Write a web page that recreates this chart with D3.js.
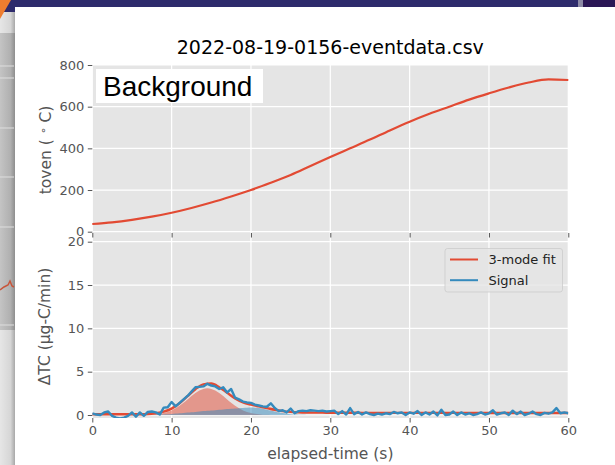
<!DOCTYPE html>
<html>
<head>
<meta charset="utf-8">
<script src="https://cdn.jsdelivr.net/npm/d3@7"></script>
<style>
  body { margin: 0; background: #fff; }
  svg { display: block; }
</style>
</head>
<body>
<div class="container"></div>
<script>
const w = 615;
const h = 465;

// top panel: oven temperature
const tovenTime = [0, 2.5, 5, 7.5, 10, 12.5, 15, 17.5, 20, 22.5, 25, 27.5, 30, 32.5, 35, 37.5, 40, 42.5, 45, 47.5, 50, 52.5, 55, 57.5, 60];
const tovenValues = [37, 45, 57, 72, 91, 114, 140, 169, 200, 235, 272, 315, 358, 400, 442, 486, 528, 566, 600, 634, 664, 692, 716, 731, 728];

// bottom panel: measured signal, 0.5 s steps
const signalTime = d3.range(0, 60.01, 0.5);
const signalValues = [
    0.2, 0.05, 0.0, 0.3, 0.4, -0.1, -0.3, -0.4, -0.3, -0.1,
    0.3, -0.2, 0.3, -0.1, 0.35, 0.4, 0.3, 0.05, 0.85, 0.9,
    1.5, 1.0, 1.4, 1.8, 2.2, 2.7, 3.2, 3.25, 3.3, 3.6,
    3.4, 3.3, 3.0, 3.2, 2.6, 3.0, 2.0, 1.8, 1.55, 1.45,
    1.4, 1.2, 1.1, 1.0, 0.95, 1.35, 0.8, 0.45, 0.55, 0.3,
    0.75, 0.2, 0.45, 0.5, 0.45, 0.55, 0.5, 0.45, 0.5, 0.4,
    0.45, 0.5, 0.1, 0.45, 0.05, 0.8, 0.1, 0.35, 0.05, 0.3,
    0.1, 0.0, 0.15, 0.05, 0.2, 0.1, 0.35, 0.2, 0.3, 0.0,
    0.3, 0.15, 0.45, 0.0, 0.3, 0.05, 0.4, -0.05, 0.6, 0.0,
    0.05, 0.4, 0.0, 0.3, 0.05, 0.2, 0.0, 0.1, 0.3, 0.05,
    0.2, 0.55, 0.05, 0.2, 0.3, 0.0, 0.5, 0.1, 0.4, 0.0,
    0.15, 0.4, 0.1, 0.0, 0.25, 0.15, 0.3, 0.8, 0.2, 0.3,
    0.2
];

// 3-mode fit (sum), 1 s steps
const fitTime = d3.range(0, 60.01, 1);
const fitValues = [
    0.08, 0.08, 0.08, 0.08, 0.08, 0.08, 0.08, 0.1, 0.2, 0.38,
    0.74, 1.36, 2.17, 2.98, 3.54, 3.63, 3.21, 2.56, 1.91, 1.45,
    1.19, 0.99, 0.8, 0.6, 0.45, 0.36, 0.31, 0.28, 0.27, 0.27,
    0.26, 0.26, 0.26, 0.26, 0.25, 0.25, 0.25, 0.25, 0.25, 0.25,
    0.25, 0.24, 0.24, 0.24, 0.24, 0.24, 0.24, 0.24, 0.24, 0.24,
    0.23, 0.23, 0.23, 0.23, 0.23, 0.23, 0.23, 0.23, 0.23, 0.23,
    0.23
];

// individual modes, 0.5 s steps over the first 30 s
const modeTime = d3.range(0, 30.01, 0.5);
const mode1Values = [
    0, 0, 0, 0, 0, 0, 0, 0, 0, 0, 0, 0, 0,
    0.01, 0.02, 0.04, 0.08, 0.14, 0.22, 0.35, 0.53, 0.77, 1.06,
    1.41, 1.79, 2.18, 2.53, 2.82, 3.01, 3.08, 3.01, 2.82, 2.53,
    2.18, 1.79, 1.41, 1.06, 0.77, 0.53, 0.35, 0.22, 0.14, 0.08,
    0.04, 0.02, 0.01,
    0, 0, 0, 0, 0, 0, 0, 0, 0, 0, 0, 0, 0, 0, 0
];
const mode2Values = [
    0, 0, 0, 0, 0, 0, 0, 0, 0, 0, 0, 0, 0, 0, 0,
    0.01, 0.03, 0.05, 0.07, 0.09, 0.12, 0.16, 0.2, 0.24, 0.28,
    0.32, 0.36, 0.4, 0.45, 0.49, 0.53, 0.56, 0.6, 0.64, 0.68,
    0.72, 0.75, 0.79, 0.82, 0.85, 0.87, 0.85, 0.8, 0.72, 0.62,
    0.51, 0.4, 0.3, 0.22, 0.15, 0.1, 0.06, 0.04, 0.02, 0.01,
    0, 0, 0, 0, 0, 0
];

const xTicks = [0, 10, 20, 30, 40, 50, 60];
const tovenTicks = [0, 200, 400, 600, 800];
const tcTicks = [0, 5, 10, 15, 20];
const legendLabels = ['3-mode fit', 'Signal'];

const red = '#E24A33';
const blue = '#348ABD';
const panelBg = '#E5E5E5';
const tickGray = '#555555';
const mplFont = '"DejaVu Sans", sans-serif';

const upper = { y0: 65, y1: 235 };
const lower = { y0: 235, y1: 418 };

const svg = d3.select('.container')
    .append('svg')
    .attr('width', w)
    .attr('height', h)
    .attr('viewBox', [0, 0, w, h]);

// ---- screenshot surroundings ----
const defs = svg.append('defs');
const stripGrad = defs.append('linearGradient').attr('id', 'strip');
stripGrad.append('stop').attr('offset', '0%').attr('stop-color', '#c4c4c4');
stripGrad.append('stop').attr('offset', '70%').attr('stop-color', '#b0b0b0');
stripGrad.append('stop').attr('offset', '100%').attr('stop-color', '#8e8e8e');
const stripGradLow = defs.append('linearGradient').attr('id', 'stripLow');
stripGradLow.append('stop').attr('offset', '0%').attr('stop-color', '#e6e6e6');
stripGradLow.append('stop').attr('offset', '70%').attr('stop-color', '#d6d6d6');
stripGradLow.append('stop').attr('offset', '100%').attr('stop-color', '#a8a8a8');

svg.append('rect').attr('width', w).attr('height', h).attr('fill', '#fff');
svg.append('rect').attr('x', 0).attr('y', 0).attr('width', w).attr('height', 7).attr('fill', '#2e2b6c');
svg.append('rect').attr('x', 578).attr('y', 0).attr('width', 5).attr('height', 7).attr('fill', '#8d8aa6');
svg.append('rect').attr('x', 583).attr('y', 0).attr('width', 32).attr('height', 7).attr('fill', '#2b1755');
svg.append('rect').attr('x', 0).attr('y', 0).attr('width', 15).attr('height', 33).attr('fill', '#2e2b6c');
svg.append('rect').attr('x', 0).attr('y', 12).attr('width', 15).attr('height', 21).attr('fill', 'url(#stripLow)');
svg.append('path').attr('d', 'M0,0 L11,0 L0,19 Z').attr('fill', '#ee7d2f');
svg.append('rect').attr('x', 0).attr('y', 33).attr('width', 15).attr('height', 297).attr('fill', 'url(#strip)');
svg.append('rect').attr('x', 0).attr('y', 330).attr('width', 15).attr('height', 135).attr('fill', 'url(#stripLow)');
[66, 78, 128, 177, 227, 325].forEach(yy => {
    svg.append('line').attr('x1', 0).attr('x2', 14).attr('y1', yy).attr('y2', yy)
        .attr('stroke', '#dedede').attr('stroke-width', 1);
});
svg.append('path').attr('d', 'M0,290 L4,287 L8,285 L10,281 L12,286 L14,287')
    .attr('fill', 'none').attr('stroke', '#c8553a').attr('stroke-width', 1.5);

// ---- scales ----
const x = d3.scaleLinear([0, 60], [92.3, 568.3]);
const yToven = d3.scaleLinear([0, 800], [231.7, 65]);
const yTC = d3.scaleLinear([0, 20], [415, 241.7]);

// ---- panel backgrounds and grids ----
function panel(band, yScale, yTickValues) {
    const g = svg.append('g');
    g.append('rect')
        .attr('x', x(0))
        .attr('y', band.y0)
        .attr('width', x(60) - x(0))
        .attr('height', band.y1 - band.y0)
        .attr('fill', panelBg);
    g.selectAll('.vgrid')
        .data(xTicks)
        .join('line')
        .attr('x1', d => x(d)).attr('x2', d => x(d))
        .attr('y1', band.y0).attr('y2', band.y1)
        .attr('stroke', '#fff').attr('stroke-width', 1.2);
    g.selectAll('.hgrid')
        .data(yTickValues)
        .join('line')
        .attr('x1', x(0)).attr('x2', x(60))
        .attr('y1', d => yScale(d)).attr('y2', d => yScale(d))
        .attr('stroke', '#fff').attr('stroke-width', 1.2);
    return g;
}
panel(upper, yToven, tovenTicks);
panel(lower, yTC, tcTicks);

defs.append('clipPath').attr('id', 'clipLow')
    .append('rect')
    .attr('x', x(0)).attr('y', lower.y0)
    .attr('width', x(60) - x(0)).attr('height', lower.y1 - lower.y0);

// ---- top: oven temperature ----
svg.append('path')
    .datum(tovenTime.map((t, i) => [t, tovenValues[i]]))
    .attr('fill', 'none')
    .attr('stroke', red)
    .attr('stroke-width', 2.2)
    .attr('d', d3.line().x(d => x(d[0])).y(d => yToven(d[1])).curve(d3.curveMonotoneX));

// "Background" annotation box
svg.append('rect')
    .attr('x', 96).attr('y', 69)
    .attr('width', 167).attr('height', 34)
    .attr('fill', '#fff');
svg.append('text')
    .attr('x', 103).attr('y', 95.5)
    .style('font-family', '"Liberation Sans", Arial, sans-serif')
    .style('font-size', '28px')
    .attr('fill', '#000')
    .text('Background');

// ---- bottom: modes, fit and signal ----
const low = svg.append('g').attr('clip-path', 'url(#clipLow)');

const area = d3.area()
    .x(d => x(d[0]))
    .y0(yTC(0))
    .y1(d => yTC(d[1]))
    .curve(d3.curveMonotoneX);

low.append('path')
    .datum(modeTime.map((t, i) => [t, mode1Values[i]]))
    .attr('fill', red).attr('fill-opacity', 0.5)
    .attr('d', area);

low.append('path')
    .datum(modeTime.map((t, i) => [t, mode2Values[i]]))
    .attr('fill', blue).attr('fill-opacity', 0.5)
    .attr('d', area);

low.append('path')
    .datum(fitTime.map((t, i) => [t, fitValues[i]]))
    .attr('fill', 'none')
    .attr('stroke', red)
    .attr('stroke-width', 2.4)
    .attr('d', d3.line().x(d => x(d[0])).y(d => yTC(d[1])).curve(d3.curveMonotoneX));

low.append('path')
    .datum(signalTime.map((t, i) => [t, signalValues[i]]))
    .attr('fill', 'none')
    .attr('stroke', blue)
    .attr('stroke-width', 2.4)
    .attr('stroke-linejoin', 'round')
    .attr('d', d3.line().x(d => x(d[0])).y(d => yTC(d[1])));

// ---- axes ----
function styleAxis(g) {
    g.select('.domain').remove();
    g.selectAll('.tick line').attr('stroke', tickGray).attr('stroke-width', 1);
    g.selectAll('.tick text')
        .attr('fill', tickGray)
        .style('font-family', mplFont)
        .style('font-size', '13px');
}

svg.append('g')
    .attr('transform', `translate(${x(0)},0)`)
    .call(d3.axisLeft(yToven).tickValues(tovenTicks).tickSize(4.5).tickPadding(3.5))
    .call(styleAxis);

svg.append('g')
    .attr('transform', `translate(${x(0)},0)`)
    .call(d3.axisLeft(yTC).tickValues(tcTicks).tickSize(4.5).tickPadding(3.5))
    .call(styleAxis);

// top panel x ticks without labels
svg.append('g')
    .attr('transform', `translate(0,${upper.y1 - 2})`)
    .call(d3.axisBottom(x).tickValues(xTicks).tickSize(4.5).tickFormat(''))
    .call(styleAxis);

svg.append('g')
    .attr('transform', `translate(0,${lower.y1})`)
    .call(d3.axisBottom(x).tickValues(xTicks).tickSize(4.5).tickPadding(3.5))
    .call(styleAxis);

// ---- titles and labels ----
svg.append('text')
    .attr('x', (x(0) + x(60)) / 2)
    .attr('y', 54)
    .attr('text-anchor', 'middle')
    .style('font-family', mplFont)
    .style('font-size', '19px')
    .attr('fill', '#000')
    .text('2022-08-19-0156-eventdata.csv');

svg.append('text')
    .attr('x', (x(0) + x(60)) / 2)
    .attr('y', 459)
    .attr('text-anchor', 'middle')
    .style('font-family', mplFont)
    .style('font-size', '15.5px')
    .attr('fill', tickGray)
    .text('elapsed-time (s)');

const tovenLabel = svg.append('text')
    .attr('transform', `translate(51,${(upper.y0 + upper.y1) / 2}) rotate(-90)`)
    .attr('text-anchor', 'middle')
    .style('font-family', mplFont)
    .style('font-size', '15.5px')
    .attr('fill', tickGray);
tovenLabel.append('tspan').text('toven ( ');
tovenLabel.append('tspan').attr('baseline-shift', '40%').style('font-size', '11px').text('\u2218');
tovenLabel.append('tspan').text(' C)');

svg.append('text')
    .attr('transform', `translate(50,${(lower.y0 + lower.y1) / 2}) rotate(-90)`)
    .attr('text-anchor', 'middle')
    .style('font-family', mplFont)
    .style('font-size', '15.5px')
    .attr('fill', tickGray)
    .text('\u0394TC (\u03bcg-C/min)');

// ---- legend ----
const legend = svg.append('g').attr('transform', 'translate(445,248.5)');
legend.append('rect')
    .attr('width', 117.5).attr('height', 43.5).attr('rx', 2.5)
    .attr('fill', panelBg).attr('fill-opacity', 0.8)
    .attr('stroke', '#cccccc').attr('stroke-opacity', 0.8);
legend.selectAll('g.item')
    .data(legendLabels)
    .join('g')
    .attr('class', 'item')
    .attr('transform', (d, i) => `translate(0,${11 + i * 20.7})`)
    .each(function (d, i) {
        const g = d3.select(this);
        g.append('line')
            .attr('x1', 5).attr('x2', 33)
            .attr('stroke', i === 0 ? red : blue)
            .attr('stroke-width', 2);
        g.append('text')
            .attr('x', 43.5).attr('y', 4.7)
            .style('font-family', mplFont)
            .style('font-size', '13px')
            .attr('fill', '#222')
            .text(d);
    });
</script>
</body>
</html>
